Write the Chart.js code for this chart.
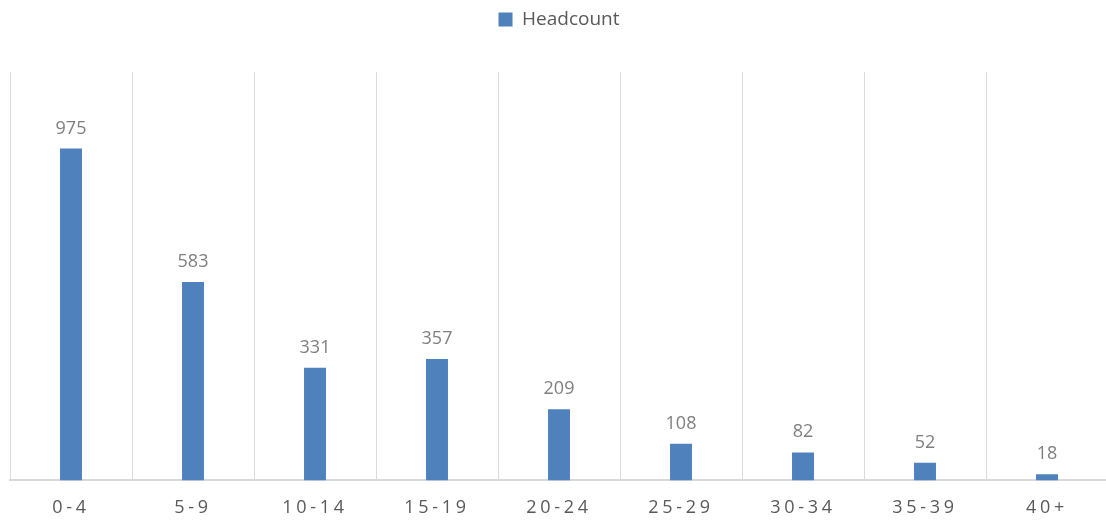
<!DOCTYPE html>
<html>
<head>
<meta charset="utf-8">
<script src="https://cdn.jsdelivr.net/npm/chart.js@4/dist/chart.umd.min.js"></script>
<style>
  html, body { margin: 0; padding: 0; background: #fff; overflow: hidden; }
  #wrap { width: 1110px; height: 521px; }
</style>
</head>
<body>
<div id="wrap"><canvas id="c"></canvas></div>
<script>
const categories = ['0-4', '5-9', '10-14', '15-19', '20-24', '25-29', '30-34', '35-39', '40+'];
const headcount = [975, 583, 331, 357, 209, 108, 82, 52, 18];
const seriesName = 'Headcount';

const FONT = '"Open Sans", "Noto Sans", sans-serif';

// Category axis whose tick labels are drawn with extra character spacing
class SpacedCategoryScale extends Chart.CategoryScale {
  drawLabels(area) {
    const ctx = this.ctx;
    ctx.save();
    ctx.letterSpacing = '3.7px';
    super.drawLabels(area);
    ctx.restore();
  }
}
SpacedCategoryScale.id = 'spacedCategory';
SpacedCategoryScale.defaults = Chart.CategoryScale.defaults;
Chart.register(SpacedCategoryScale);

// Value labels above each bar
const valueLabels = {
  id: 'valueLabels',
  afterDatasetsDraw(chart) {
    const ctx = chart.ctx;
    const meta = chart.getDatasetMeta(0);
    ctx.save();
    ctx.font = '18px ' + FONT;
    ctx.fillStyle = '#7f7f7f';
    ctx.textAlign = 'center';
    ctx.textBaseline = 'alphabetic';
    meta.data.forEach((bar, i) => {
      ctx.fillText(String(chart.data.datasets[0].data[i]), bar.x, bar.y - 15);
    });
    ctx.restore();
  }
};

// Extra space between the legend and the plot area
const legendGap = {
  id: 'legendGap',
  afterInit(chart) {
    const legend = chart.legend;
    if (!legend) return;
    const fit = legend.fit;
    legend.fit = function () {
      fit.call(this);
      this.height += 33;
    };
  }
};

new Chart(document.getElementById('c'), {
  type: 'bar',
  data: {
    labels: categories,
    datasets: [{
      label: seriesName,
      data: headcount,
      backgroundColor: '#4f81bd',
      borderWidth: 0,
      barPercentage: 0.18,
      categoryPercentage: 1.0
    }]
  },
  options: {
    responsive: true,
    maintainAspectRatio: false,
    animation: false,
    layout: { padding: { left: 10, right: 2, top: 0, bottom: -15 } },
    plugins: {
      legend: {
        position: 'top',
        align: 'center',
        labels: {
          boxWidth: 14,
          boxHeight: 14,
          padding: 10,
          color: '#595959',
          font: { family: FONT, size: 19 }
        }
      },
      tooltip: { enabled: false }
    },
    scales: {
      x: {
        type: 'spacedCategory',
        grid: {
          display: true,
          offset: true,
          color: '#d9d9d9',
          lineWidth: 1,
          drawTicks: false
        },
        border: { display: true, color: '#d9d9d9', width: 2 },
        ticks: {
          color: '#595959',
          padding: 17,
          font: { family: FONT, size: 18 }
        }
      },
      y: {
        display: false,
        min: 0,
        max: 1200
      }
    }
  },
  plugins: [valueLabels, legendGap]
});
</script>
</body>
</html>
